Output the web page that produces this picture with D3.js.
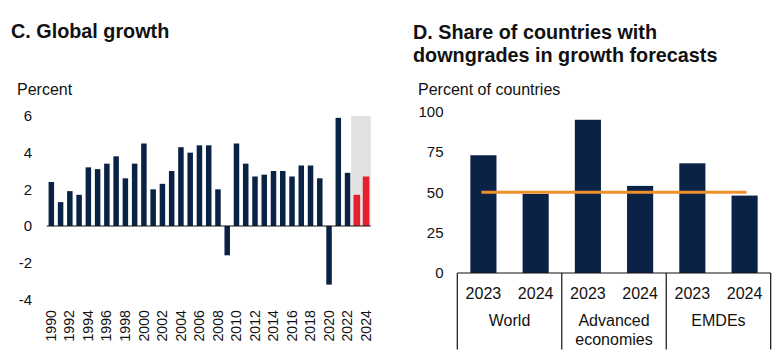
<!DOCTYPE html>
<html>
<head>
<meta charset="utf-8">
<script src="https://cdn.jsdelivr.net/npm/d3@7/dist/d3.min.js"></script>
<style>
  html, body { margin: 0; padding: 0; background: #fff; }
  svg { display: block; font-family: "Liberation Sans", Arial, sans-serif; }
</style>
</head>
<body>
<svg id="chart" width="779" height="360"></svg>
<script>
// ---- Panel C data ----
const years = [1990,1991,1992,1993,1994,1995,1996,1997,1998,1999,2000,2001,2002,2003,2004,2005,2006,2007,2008,2009,2010,2011,2012,2013,2014,2015,2016,2017,2018,2019,2020,2021,2022,2023,2024];
const growth = [2.4,1.3,1.9,1.7,3.2,3.1,3.4,3.8,2.6,3.4,4.5,2.0,2.3,3.0,4.3,4.0,4.4,4.4,2.0,-1.6,4.5,3.4,2.7,2.8,3.0,3.0,2.7,3.3,3.3,2.6,-3.2,5.9,2.9,1.7,2.7];
const forecastYears = [2023, 2024];
const growthTicks = [-4,-2,0,2,4,6];
const yearLabels = [1990,1992,1994,1996,1998,2000,2002,2004,2006,2008,2010,2012,2014,2016,2018,2020,2022,2024];

// ---- Panel D data ----
const groups = ["World", "Advanced economies", "EMDEs"];
const groupLines = [["World"], ["Advanced", "economies"], ["EMDEs"]];
const barYears = ["2023", "2024"];
const shareDown = [73, 49, 95, 54, 68, 48];
const threshold = 50;
const shareTicks = [0,25,50,75,100];

const NAVY = "#0a2245", RED = "#e8202d", GREY = "#e1e1e1", ORANGE = "#f0902c";
const svg = d3.select("#chart");

// Titles
svg.append("text").attr("x", 11).attr("y", 38).attr("font-size", 19.8).attr("font-weight", "bold").attr("fill", "#111").text("C. Global growth");
const tD = svg.append("text").attr("x", 413).attr("y", 39).attr("font-size", 19.8).attr("font-weight", "bold").attr("fill", "#111");
tD.append("tspan").attr("x", 413).text("D. Share of countries with");
tD.append("tspan").attr("x", 413).attr("dy", 23).text("downgrades in growth forecasts");

// ===== Panel C =====
const xC = d3.scaleBand().domain(years).range([46.7, 370.7]);
const yC = d3.scaleLinear().domain([-4, 6]).range([299.3, 116]);
const gC = svg.append("g");

gC.append("text").attr("x", 17).attr("y", 95).attr("font-size", 16).attr("fill", "#111").text("Percent");

// forecast shading
gC.append("rect")
  .attr("x", xC(forecastYears[0]) - 1)
  .attr("width", xC(forecastYears[1]) + xC.bandwidth() - xC(forecastYears[0]) + 1)
  .attr("y", yC(6)).attr("height", yC(0) - yC(6))
  .attr("fill", GREY);

// y ticks
gC.selectAll(".yt").data(growthTicks).join("text")
  .attr("x", 32).attr("y", d => yC(d)).attr("dy", "0.36em")
  .attr("text-anchor", "end").attr("font-size", 15).attr("fill", "#111")
  .text(d => d);

// bars
const data = years.map((y, i) => ({year: y, v: growth[i]}));
gC.selectAll(".bar").data(data).join("rect")
  .attr("x", d => {
    const w = forecastYears.includes(d.year) ? 6.6 : 5.5;
    return xC(d.year) + xC.bandwidth() / 2 - w / 2;
  })
  .attr("width", d => forecastYears.includes(d.year) ? 6.6 : 5.5)
  .attr("y", d => yC(Math.max(0, d.v)))
  .attr("height", d => Math.abs(yC(d.v) - yC(0)))
  .attr("fill", d => forecastYears.includes(d.year) ? RED : NAVY);

// zero line
gC.append("line").attr("x1", 46.7).attr("x2", 370.7).attr("y1", yC(0)).attr("y2", yC(0))
  .attr("stroke", "#111").attr("stroke-width", 1.2);

// x labels
gC.selectAll(".xl").data(yearLabels).join("text")
  .attr("transform", d => `translate(${xC(d) + xC.bandwidth() / 2 - 0.5},310) rotate(-90)`)
  .attr("dy", "0.36em").attr("text-anchor", "end")
  .attr("font-size", 14.2).attr("fill", "#111")
  .text(d => d);

// ===== Panel D =====
const cats = [];
groups.forEach(g => barYears.forEach(y => cats.push(g + "|" + y)));
const xD = d3.scaleBand().domain(cats).range([457.3, 770.7]).paddingInner(0.5).paddingOuter(0.25);
const yD = d3.scaleLinear().domain([0, 100]).range([273, 111.7]);
const gD = svg.append("g");

gD.append("text").attr("x", 418).attr("y", 95).attr("font-size", 16).attr("fill", "#111").text("Percent of countries");

gD.selectAll(".yt").data(shareTicks).join("text")
  .attr("x", 443.5).attr("y", d => yD(d)).attr("dy", "0.36em")
  .attr("text-anchor", "end").attr("font-size", 15).attr("fill", "#111")
  .text(d => d);

gD.selectAll(".bar").data(cats.map((c, i) => ({c, v: shareDown[i]}))).join("rect")
  .attr("x", d => xD(d.c)).attr("width", xD.bandwidth())
  .attr("y", d => yD(d.v)).attr("height", d => yD(0) - yD(d.v))
  .attr("fill", NAVY);

// threshold line
gD.append("line")
  .attr("x1", xD(cats[0]) + xD.bandwidth() / 2 - 2)
  .attr("x2", xD(cats[cats.length - 1]) + xD.bandwidth() / 2 + 2)
  .attr("y1", yD(threshold)).attr("y2", yD(threshold))
  .attr("stroke", ORANGE).attr("stroke-width", 3);

// category axis box
const x0 = 457.3, x1 = 770.7, gw = (x1 - x0) / groups.length;
gD.append("line").attr("x1", x0).attr("x2", x1).attr("y1", 273).attr("y2", 273).attr("stroke", "#111").attr("stroke-width", 1.2);
d3.range(groups.length + 1).forEach(k => {
  gD.append("line").attr("x1", x0 + k * gw).attr("x2", x0 + k * gw).attr("y1", 273).attr("y2", 349.5)
    .attr("stroke", "#111").attr("stroke-width", 1.2);
});

gD.selectAll(".yl").data(cats).join("text")
  .attr("x", d => xD(d) + xD.bandwidth() / 2).attr("y", 298.5)
  .attr("text-anchor", "middle").attr("font-size", 16).attr("fill", "#111")
  .text(d => d.split("|")[1]);

groupLines.forEach((lines, k) => {
  lines.forEach((ln, j) => {
    gD.append("text").attr("x", x0 + (k + 0.5) * gw).attr("y", 326 + j * 19)
      .attr("text-anchor", "middle").attr("font-size", 16).attr("fill", "#111").text(ln);
  });
});
</script>
</body>
</html>
